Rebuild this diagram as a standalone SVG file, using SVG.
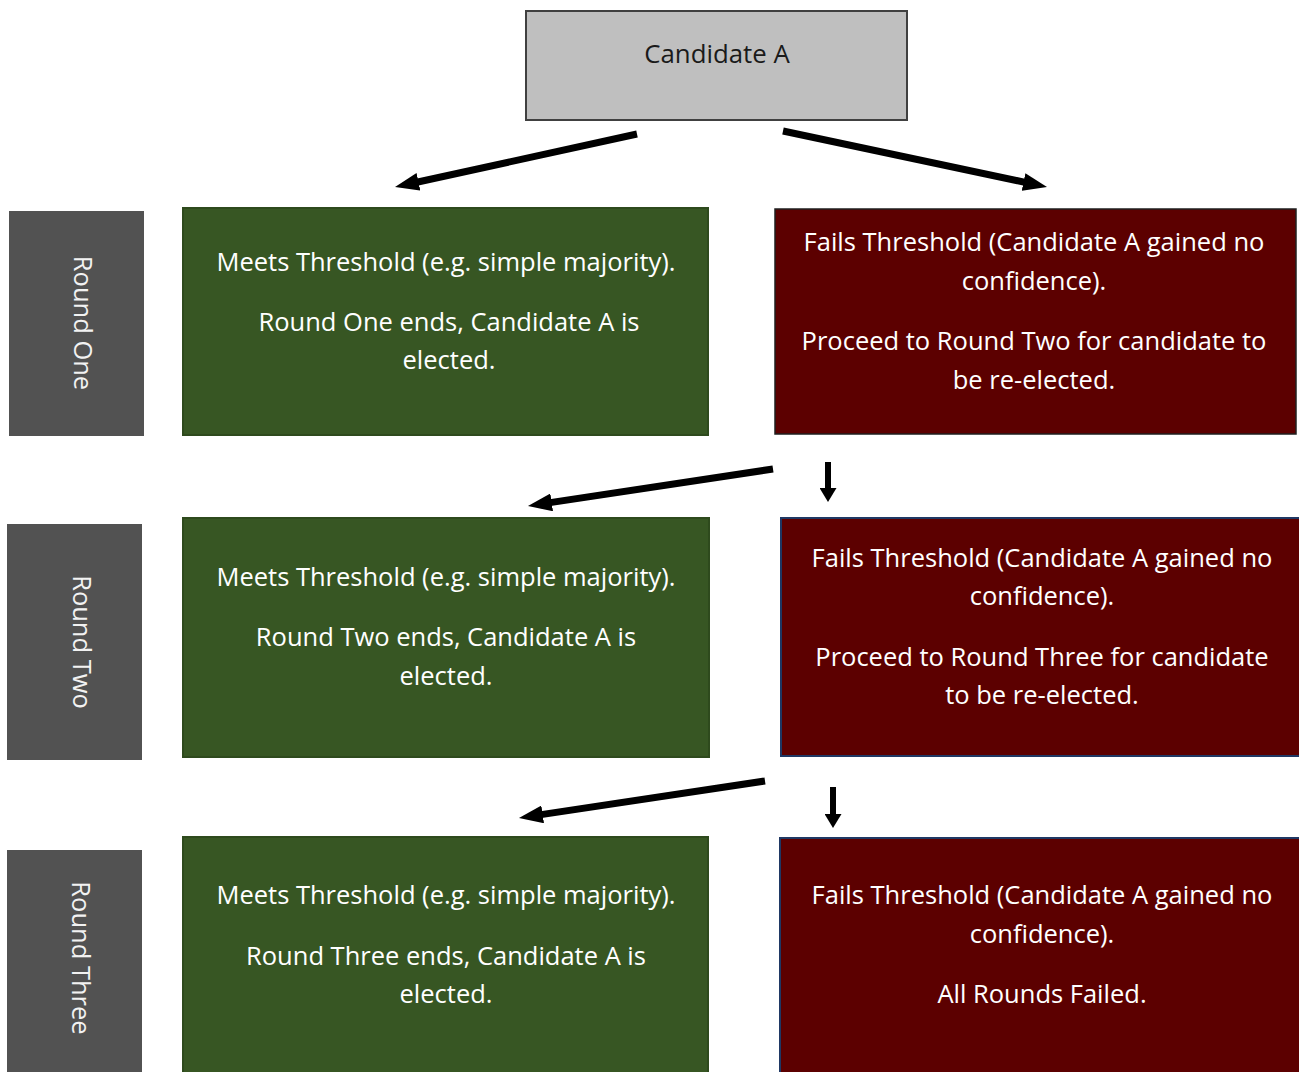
<svg xmlns="http://www.w3.org/2000/svg" width="1299" height="1072" viewBox="0 0 1299 1072">
<style>
  .side { fill: #525252; }
  .green { fill: #375623; stroke: #2e4a1d; stroke-width: 2; }
  .red { fill: #5c0000; stroke: #1f1f1f; stroke-width: 1.5; }
  .redb { fill: #5c0000; stroke: #1f3864; stroke-width: 2; }
  .t { font-family: "Open Sans", "Noto Sans", sans-serif; font-size: 25.5px; fill: #ffffff; text-anchor: middle; }
  .side-t { font-family: "Open Sans", "Noto Sans", sans-serif; font-size: 25.5px; fill: #f2f2f2; text-anchor: middle; }
  .conn line { stroke: #000; stroke-width: 7; fill: none; }
  .conn line.down { stroke-width: 6; }
</style>
<defs>
  <marker id="ah" viewBox="0 0 24 18" refX="10" refY="9" markerWidth="24" markerHeight="18" markerUnits="userSpaceOnUse" orient="auto">
    <path d="M0,0 L24,9 L0,18 Z" fill="#000"/>
  </marker>
  <marker id="ahd" viewBox="0 0 14 17" refX="4" refY="8.5" markerWidth="14" markerHeight="17" markerUnits="userSpaceOnUse" orient="auto">
    <path d="M0,0 L14,8.5 L0,17 Z" fill="#000"/>
  </marker>
</defs>
<rect width="1299" height="1072" fill="#ffffff"/>

<g id="candidate-a">
  <rect x="526" y="11" width="381" height="109" fill="#bfbfbf" stroke="#404040" stroke-width="2"/>
  <text x="717" y="63" font-family="Open Sans, Noto Sans, sans-serif" font-size="25.8" fill="#1a1a1a" text-anchor="middle">Candidate A</text>
</g>

<g id="round-one-label">
  <rect class="side" x="9" y="211" width="135" height="225"/>
  <text class="side-t" transform="translate(74,323) rotate(90)">Round One</text>
</g>
<g id="round-two-label">
  <rect class="side" x="7" y="524" width="135" height="236"/>
  <text class="side-t" transform="translate(73,642) rotate(90)">Round Two</text>
</g>
<g id="round-three-label">
  <rect class="side" x="7" y="850" width="135" height="230"/>
  <text class="side-t" transform="translate(72,958) rotate(90)">Round Three</text>
</g>

<g id="meets-1">
  <rect class="green" x="183" y="208" width="525" height="227"/>
  <text class="t" x="446" y="271">Meets Threshold (e.g. simple majority).</text>
  <text class="t" x="449" y="331">Round One ends, Candidate A is</text>
  <text class="t" x="449" y="369">elected.</text>
</g>
<g id="fails-1">
  <rect class="red" x="775" y="209" width="521" height="225"/>
  <text class="t" x="1034" y="251">Fails Threshold (Candidate A gained no</text>
  <text class="t" x="1034" y="290">confidence).</text>
  <text class="t" x="1034" y="350">Proceed to Round Two for candidate to</text>
  <text class="t" x="1034" y="389">be re-elected.</text>
</g>

<g id="meets-2">
  <rect class="green" x="183" y="518" width="526" height="239"/>
  <text class="t" x="446" y="586">Meets Threshold (e.g. simple majority).</text>
  <text class="t" x="446" y="646">Round Two ends, Candidate A is</text>
  <text class="t" x="446" y="685">elected.</text>
</g>
<g id="fails-2">
  <rect class="redb" x="781" y="518" width="520" height="238"/>
  <text class="t" x="1042" y="567">Fails Threshold (Candidate A gained no</text>
  <text class="t" x="1042" y="605">confidence).</text>
  <text class="t" x="1042" y="666">Proceed to Round Three for candidate</text>
  <text class="t" x="1042" y="704">to be re-elected.</text>
</g>

<g id="meets-3">
  <rect class="green" x="183" y="837" width="525" height="245"/>
  <text class="t" x="446" y="904">Meets Threshold (e.g. simple majority).</text>
  <text class="t" x="446" y="965">Round Three ends, Candidate A is</text>
  <text class="t" x="446" y="1003">elected.</text>
</g>
<g id="fails-3">
  <rect class="redb" x="780" y="838" width="521" height="244"/>
  <text class="t" x="1042" y="904">Fails Threshold (Candidate A gained no</text>
  <text class="t" x="1042" y="943">confidence).</text>
  <text class="t" x="1042" y="1003">All Rounds Failed.</text>
</g>

<g id="connectors" class="conn">
  <line x1="637" y1="134" x2="408.7" y2="184" marker-end="url(#ah)"/>
  <line x1="783" y1="131" x2="1033.3" y2="184.1" marker-end="url(#ah)"/>
  <line x1="773" y1="469" x2="541.8" y2="503.9" marker-end="url(#ah)"/>
  <line class="down" x1="828" y1="462" x2="828" y2="492" marker-end="url(#ahd)"/>
  <line x1="765" y1="781" x2="532.8" y2="815.9" marker-end="url(#ah)"/>
  <line class="down" x1="833" y1="787" x2="833" y2="818" marker-end="url(#ahd)"/>
</g>
</svg>
